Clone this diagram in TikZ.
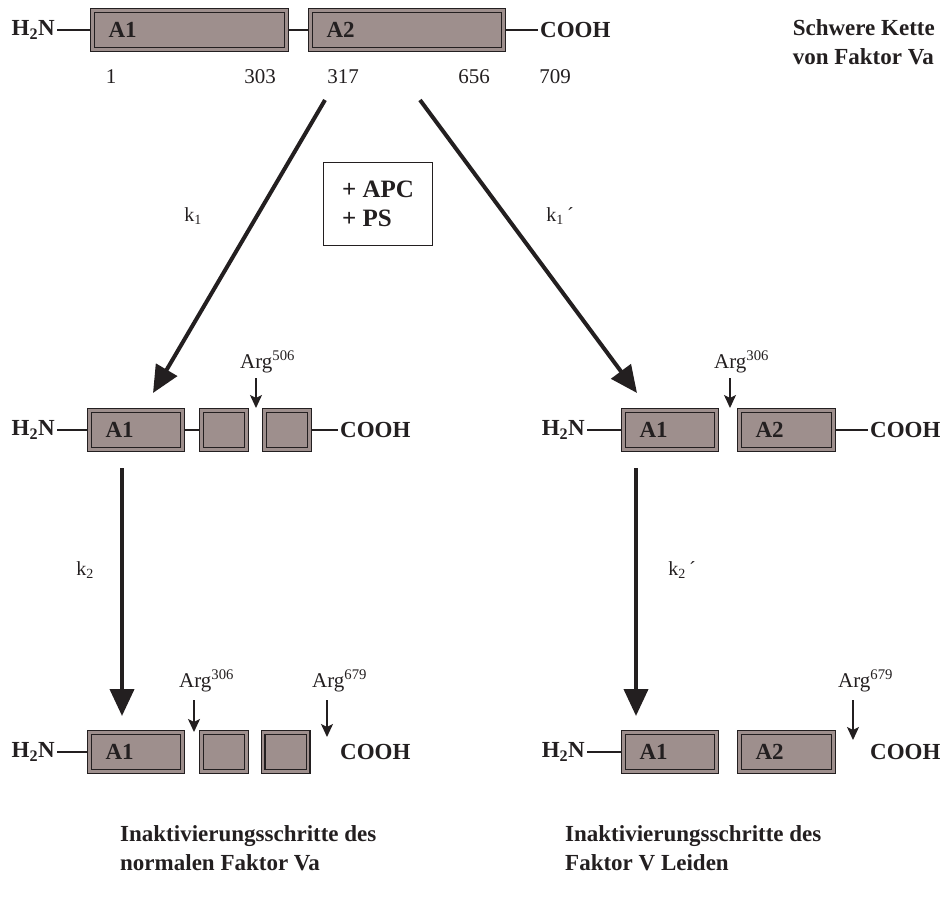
\documentclass[tikz,border=0pt]{standalone}
\usepackage{fontspec}
\setmainfont{Liberation Serif}
\usetikzlibrary{arrows.meta}

\definecolor{ink}{HTML}{231F20}
\definecolor{mauve}{HTML}{9E8F8D}

\begin{document}
\begin{tikzpicture}[x=1pt,y=-1pt,
  dombox/.style={draw=ink, line width=1.3pt, double=mauve, double distance=2.4pt,
    fill=mauve, outer sep=2.5pt, inner ysep=0pt, inner xsep=16pt,
    minimum height=39pt, align=left, text=ink,
    font=\bfseries\fontsize{23}{26}\selectfont},
  termlbl/.style={inner sep=2pt, text=ink, font=\bfseries\fontsize{23}{26}\selectfont},
  resnum/.style={inner sep=0pt, anchor=base, text=ink, font=\fontsize{21}{24}\selectfont},
  ratelbl/.style={inner sep=0pt, text=ink, font=\fontsize{20}{22}\selectfont},
  sitelbl/.style={inner sep=0pt, anchor=base west, text=ink, font=\fontsize{21}{24}\selectfont},
  caplbl/.style={inner sep=0pt, align=left, text=ink, font=\bfseries\fontsize{23}{29}\selectfont},
  linkline/.style={draw=ink, line width=1.3pt},
  bigarrow/.style={draw=ink, line width=4pt, -{Triangle[length=27pt,width=24pt]}},
  cutarrow/.style={draw=ink, line width=1.4pt, -{Stealth[length=13pt,width=12pt,inset=3pt]}}]

\useasboundingbox (0,0) rectangle (940,905);

% ---- heavy chain of factor Va ----
\node[termlbl, anchor=east] (n0) at (57,30) {H\textsubscript{2}N};
\node[dombox, text width=162pt] (a1) at (189.5,30) {A1};
\node[dombox, text width=161pt] (a2) at (407,30) {A2};
\node[termlbl, anchor=west] (c0) at (538,30) {COOH};
\draw[linkline] (n0.east) -- (a1.west);
\draw[linkline] (a1.east) -- (a2.west);
\draw[linkline] (a2.east) -- (c0.west);

\node[resnum] (p1) at (111,83) {1};
\node[resnum] (p303) at (260,83) {303};
\node[resnum] (p317) at (343,83) {317};
\node[resnum] (p656) at (474,83) {656};
\node[resnum] (p709) at (555,83) {709};

\node[caplbl, anchor=north east] (title) at (935,19) {Schwere Kette\\von Faktor Va};

% ---- cofactors ----
\node[draw=ink, line width=1.2pt, minimum width=109pt, minimum height=83pt,
      inner xsep=17pt, align=left, text=ink,
      font=\bfseries\fontsize{25}{29}\selectfont] (apc) at (378,204) {+ APC\\+ PS};

% ---- first cleavage ----
\coordinate (s1) at (325,100);
\coordinate (t1) at (153,393);
\coordinate (s2) at (420,100);
\coordinate (t2) at (637,393);
\draw[bigarrow] (s1) -- (t1);
\draw[bigarrow] (s2) -- (t2);
\node[ratelbl] (k1) at (193,216) {k\textsubscript{1}};
\node[ratelbl] (k1p) at (560,216) {k\textsubscript{1}\,´};

% ---- intermediate, normal factor Va ----
\node[termlbl, anchor=east] (n1) at (57,430) {H\textsubscript{2}N};
\node[dombox, text width=61pt] (b1) at (136,430) {A1};
\node[dombox, text width=13pt] (b2) at (224,430) {};
\node[dombox, text width=13pt] (b3) at (287,430) {};
\node[termlbl, anchor=west] (c1) at (338,430) {COOH};
\draw[linkline] (n1.east) -- (b1.west);
\draw[linkline] (b1.east) -- (b2.west);
\draw[linkline] (b3.east) -- (c1.west);
\node[sitelbl] (r506) at (240,368) {Arg\textsuperscript{506}};
\coordinate (u1) at (256,378);
\coordinate (v1) at (256,408);
\draw[cutarrow] (u1) -- (v1);

% ---- intermediate, factor V Leiden ----
\node[termlbl, anchor=east] (n2) at (587,430) {H\textsubscript{2}N};
\node[dombox, text width=61pt] (d1) at (670,430) {A1};
\node[dombox, text width=62pt] (d2) at (786.5,430) {A2};
\node[termlbl, anchor=west] (c2) at (868,430) {COOH};
\draw[linkline] (n2.east) -- (d1.west);
\draw[linkline] (d2.east) -- (c2.west);
\node[sitelbl] (r306b) at (714,368) {Arg\textsuperscript{306}};
\coordinate (u2) at (730,378);
\coordinate (v2) at (730,408);
\draw[cutarrow] (u2) -- (v2);

% ---- second cleavage ----
\coordinate (s3) at (122,468);
\coordinate (t3) at (122,716);
\coordinate (s4) at (636,468);
\coordinate (t4) at (636,716);
\draw[bigarrow] (s3) -- (t3);
\draw[bigarrow] (s4) -- (t4);
\node[ratelbl] (k2) at (85,570) {k\textsubscript{2}};
\node[ratelbl] (k2p) at (682,570) {k\textsubscript{2}\,´};

% ---- inactivated, normal factor Va ----
\node[termlbl, anchor=east] (n3) at (57,752) {H\textsubscript{2}N};
\node[dombox, text width=61pt] (e1) at (136,752) {A1};
\node[dombox, text width=13pt] (e2) at (224,752) {};
\node[dombox, text width=13pt] (e3) at (285.5,752) {};
\node[termlbl, anchor=west] (c3) at (338,752) {COOH};
\draw[linkline] (n3.east) -- (e1.west);
\node[sitelbl] (r306c) at (179,687) {Arg\textsuperscript{306}};
\coordinate (u3) at (194,700);
\coordinate (v3) at (194,732);
\draw[cutarrow] (u3) -- (v3);
\node[sitelbl] (r679a) at (312,687) {Arg\textsuperscript{679}};
\coordinate (u4) at (327,700);
\coordinate (v4) at (327,737);
\draw[cutarrow] (u4) -- (v4);

% ---- inactivated, factor V Leiden ----
\node[termlbl, anchor=east] (n4) at (587,752) {H\textsubscript{2}N};
\node[dombox, text width=61pt] (f1) at (670,752) {A1};
\node[dombox, text width=62pt] (f2) at (786.5,752) {A2};
\node[termlbl, anchor=west] (c4) at (868,752) {COOH};
\draw[linkline] (n4.east) -- (f1.west);
\node[sitelbl] (r679b) at (838,687) {Arg\textsuperscript{679}};
\coordinate (u5) at (853,700);
\coordinate (v5) at (853,740);
\draw[cutarrow] (u5) -- (v5);

% ---- captions ----
\node[caplbl, anchor=north west] (capl) at (120,825) {Inaktivierungsschritte des\\normalen Faktor Va};
\node[caplbl, anchor=north west] (capr) at (565,825) {Inaktivierungsschritte des\\Faktor V Leiden};
\end{tikzpicture}
\end{document}
